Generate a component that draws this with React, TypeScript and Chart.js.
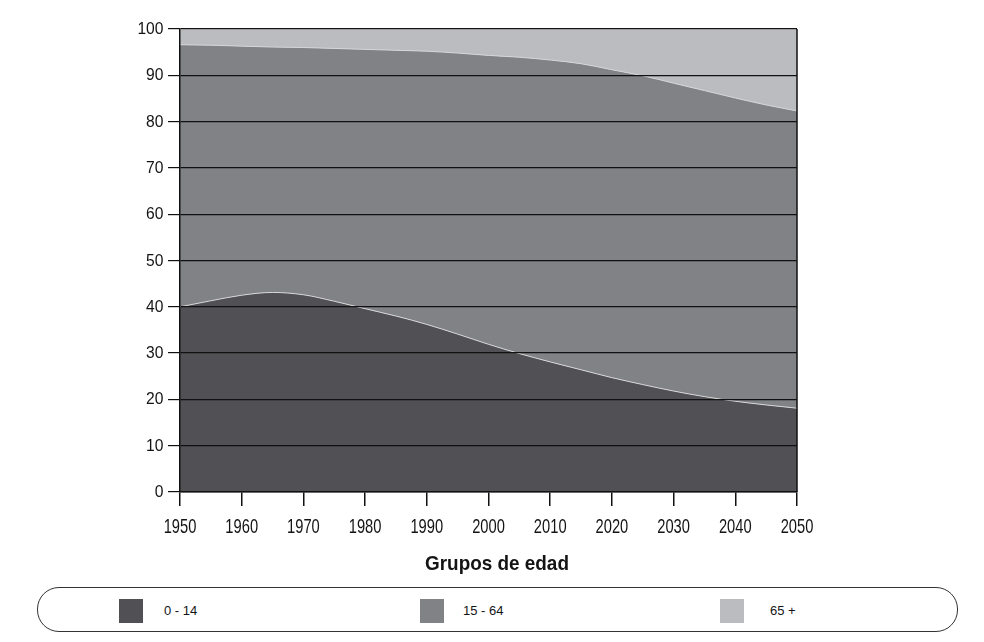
import React, { useEffect, useRef } from "react";
import { Chart, registerables } from "chart.js";

Chart.register(...registerables);

const years = [1950, 1955, 1960, 1965, 1970, 1975, 1980, 1985, 1990, 1995, 2000, 2005, 2010, 2015, 2020, 2025, 2030, 2035, 2040, 2045, 2050];
const age0to14 = [40.0, 41.3, 42.5, 43.1, 42.6, 41.2, 39.6, 38.0, 36.2, 34.1, 31.9, 29.9, 28.1, 26.4, 24.7, 23.2, 21.8, 20.6, 19.6, 18.8, 18.1];
const age15to64 = [56.6, 55.2, 53.8, 53.0, 53.4, 54.6, 56.0, 57.4, 59.0, 60.7, 62.4, 64.0, 65.2, 66.1, 66.5, 66.7, 66.5, 66.1, 65.5, 64.8, 64.2];
const age65plus = [3.4, 3.5, 3.7, 3.9, 4.0, 4.2, 4.4, 4.6, 4.8, 5.2, 5.7, 6.1, 6.7, 7.5, 8.8, 10.1, 11.7, 13.3, 14.9, 16.4, 17.7];
const seriesLabels = ["0 - 14", "15 - 64", "65 +"];
const seriesColors = ["#505055", "#818286", "#bbbcc0"];
const xTitle = "Grupos de edad";

const SANS = "'Liberation Sans', Arial, sans-serif";

// right border of the plot + condensed tick labels (drawn from the library's scales)
const frameAndLabels = {
  id: "frameAndLabels",
  afterDraw(chart: any) {
    const { ctx, chartArea } = chart;
    const xs = chart.scales.x;
    const ys = chart.scales.y;
    ctx.save();
    ctx.strokeStyle = "#111";
    ctx.lineWidth = 1.5;
    ctx.beginPath();
    ctx.moveTo(chartArea.right, chartArea.top);
    ctx.lineTo(chartArea.right, chartArea.bottom);
    ctx.stroke();

    ctx.fillStyle = "#141414";
    ctx.textBaseline = "alphabetic";
    // x tick labels
    ctx.font = `21px ${SANS}`;
    ctx.textAlign = "center";
    xs.ticks.forEach((t: any) => {
      const px = xs.getPixelForValue(t.value);
      ctx.save();
      ctx.translate(px, chartArea.bottom + 41);
      ctx.scale(0.7, 1);
      ctx.fillText(String(t.value), 0, 0);
      ctx.restore();
    });
    // y tick labels
    ctx.font = `17px ${SANS}`;
    ctx.textAlign = "right";
    ys.ticks.forEach((t: any) => {
      const py = ys.getPixelForValue(t.value);
      ctx.save();
      ctx.translate(chartArea.left - 16.5, py + 5);
      ctx.scale(0.92, 1);
      ctx.fillText(String(t.value), 0, 0);
      ctx.restore();
    });
    ctx.restore();
  },
};

export default function App() {
  const ref = useRef<HTMLCanvasElement>(null);
  useEffect(() => {
    const pts = (arr: number[]) => arr.map((v, i) => ({ x: years[i], y: v }));
    const series = [age0to14, age15to64, age65plus];
    const chart = new Chart(ref.current!, {
      type: "line",
      data: {
        datasets: series.map((s, i) => ({
          label: seriesLabels[i],
          data: pts(s),
          backgroundColor: seriesColors[i],
          borderColor: "#d6d6d8",
          borderWidth: 1,
          pointRadius: 0,
          fill: i === 0 ? "origin" : "-1",
          cubicInterpolationMode: "monotone" as const,
        })),
      },
      options: {
        animation: false,
        responsive: false,
        maintainAspectRatio: false,
        layout: { padding: { left: 0, right: 187, top: 29, bottom: 0 } },
        plugins: { legend: { display: false }, tooltip: { enabled: false } },
        scales: {
          x: {
            type: "linear",
            min: 1950,
            max: 2050,
            ticks: { stepSize: 10, display: false },
            grid: {
              drawOnChartArea: false,
              drawTicks: true,
              tickLength: 14,
              color: "#111",
              lineWidth: 1.5,
              z: 1,
            },
            border: { display: true, color: "#111", width: 1.5, z: 1 },
            afterFit: (s: any) => {
              s.height = 93;
            },
          },
          y: {
            stacked: true,
            min: 0,
            max: 100,
            ticks: { stepSize: 10, display: false },
            grid: {
              color: "#111",
              lineWidth: 1.2,
              drawTicks: true,
              tickLength: 12,
              z: 1,
            },
            border: { display: true, color: "#111", width: 1.5, z: 1 },
            afterFit: (s: any) => {
              s.width = 180;
            },
          },
        },
      },
      plugins: [frameAndLabels],
    } as any);
    return () => chart.destroy();
  }, []);

  const legendItems = [
    { sq: 119, tx: 164 },
    { sq: 420, tx: 463 },
    { sq: 720, tx: 770 },
  ];

  return (
    <div style={{ position: "absolute", left: 0, top: 0, width: 984, height: 642, background: "#fff" }}>
      <canvas ref={ref} width={984} height={585} style={{ position: "absolute", left: 0, top: 0, width: 984, height: 585 }} />
      <div
        style={{
          position: "absolute",
          left: 397,
          top: 550,
          width: 200,
          textAlign: "center",
          fontFamily: SANS,
          fontWeight: "bold",
          fontSize: 21,
          lineHeight: "26px",
          color: "#141414",
          transform: "scaleX(0.9)",
          whiteSpace: "nowrap",
        }}
      >
        {xTitle}
      </div>
      <div
        style={{
          position: "absolute",
          left: 37,
          top: 587,
          width: 919,
          height: 43,
          border: "1.5px solid #333",
          borderRadius: 22,
        }}
      />
      {legendItems.map((it, i) => (
        <React.Fragment key={i}>
          <div
            style={{
              position: "absolute",
              left: it.sq,
              top: 599,
              width: 24,
              height: 24,
              background: seriesColors[i],
            }}
          />
          <div
            style={{
              position: "absolute",
              left: it.tx,
              top: 603,
              fontFamily: SANS,
              fontSize: 13,
              color: "#141414",
              lineHeight: "15px",
              whiteSpace: "nowrap",
            }}
          >
            {seriesLabels[i]}
          </div>
        </React.Fragment>
      ))}
    </div>
  );
}
